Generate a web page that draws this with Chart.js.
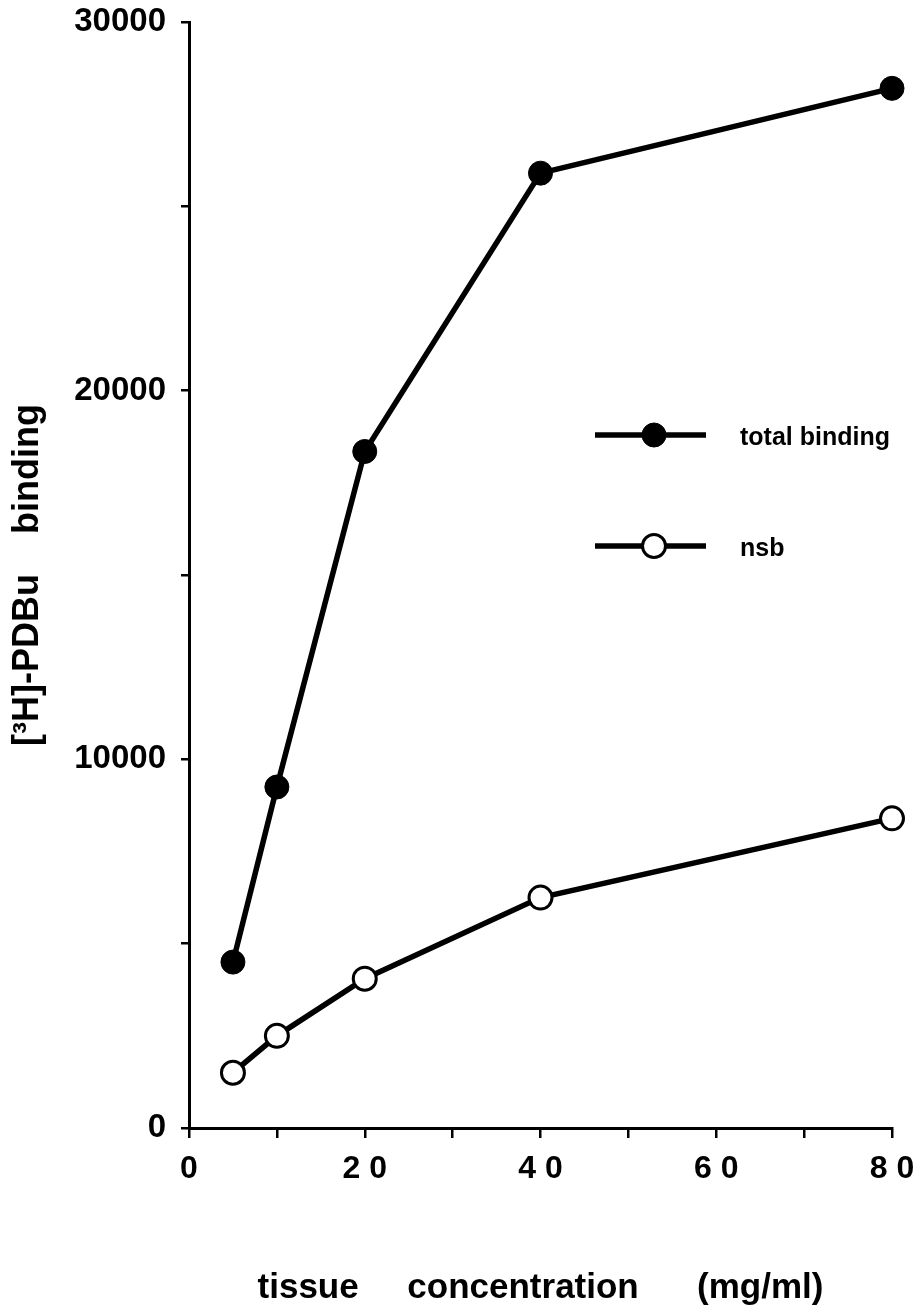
<!DOCTYPE html>
<html>
<head>
<meta charset="utf-8">
<title>PDBu binding</title>
<script src="https://cdn.jsdelivr.net/npm/chart.js@4/dist/chart.umd.min.js"></script>
<style>
  html, body { margin: 0; padding: 0; background: #fff; }
  #wrap { width: 922px; height: 1315px; position: relative; }
</style>
</head>
<body>
<div id="wrap"><canvas id="canvas"></canvas></div>
<script>
// tissue concentration (mg/ml)
const concentrations = [5, 10, 20, 40, 80];
// [3H]-PDBu binding
const totalBinding = [4500, 9250, 18350, 25900, 28200];
const nsb = [1500, 2500, 4050, 6250, 8400];

const xTicks = [0, 20, 40, 60, 80];
const yTicks = [0, 10000, 20000, 30000];
const seriesNames = ['total binding', 'nsb'];

const boldFont = "'Liberation Sans', Arial, Helvetica, sans-serif";

const toPoints = (values) => concentrations.map((c, i) => ({ x: c, y: values[i] }));

// legend drawn inside the plot, like the original figure
const insideLegend = {
  id: 'insideLegend',
  afterDatasetsDraw(chart) {
    const ctx = chart.ctx;
    const rows = [
      { y: 435, ds: chart.data.datasets[0] },
      { y: 546, ds: chart.data.datasets[1] }
    ];
    rows.forEach(row => {
      ctx.save();
      ctx.strokeStyle = '#000';
      ctx.lineWidth = 5.5;
      ctx.beginPath();
      ctx.moveTo(595, row.y);
      ctx.lineTo(706, row.y);
      ctx.stroke();
      ctx.beginPath();
      ctx.arc(654, row.y, row.ds.pointRadius, 0, Math.PI * 2);
      ctx.fillStyle = row.ds.pointBackgroundColor;
      ctx.fill();
      ctx.lineWidth = row.ds.pointBorderWidth;
      ctx.stroke();
      ctx.fillStyle = '#000';
      ctx.font = 'bold 25px ' + boldFont;
      ctx.textBaseline = 'middle';
      ctx.fillText(row.ds.label, 740, row.y + 3);
      ctx.restore();
    });
  }
};

// keep the plot box where the figure has it
const noScalePadding = (scale) => {
  scale.paddingTop = 0;
  scale.paddingBottom = 0;
  scale.paddingLeft = 0;
  scale.paddingRight = 0;
};

let ctx = document.querySelector('#canvas');

const myGraph = new Chart(ctx, {
  type: 'line',
  data: {
    datasets: [
      {
        label: seriesNames[0],
        data: toPoints(totalBinding),
        borderColor: '#000',
        borderWidth: 5.5,
        pointRadius: 12,
        pointBackgroundColor: '#000',
        pointBorderColor: '#000',
        pointBorderWidth: 1,
        tension: 0,
        clip: false
      },
      {
        label: seriesNames[1],
        data: toPoints(nsb),
        borderColor: '#000',
        borderWidth: 5.5,
        pointRadius: 11.5,
        pointBackgroundColor: '#fff',
        pointBorderColor: '#000',
        pointBorderWidth: 3,
        tension: 0,
        clip: false
      }
    ]
  },
  options: {
    responsive: true,
    maintainAspectRatio: false,
    animation: false,
    layout: { autoPadding: false, padding: { left: 0, top: 22, right: 30, bottom: 0 } },
    plugins: {
      legend: { display: false },
      tooltip: { enabled: false }
    },
    scales: {
      x: {
        type: 'linear',
        min: 0,
        max: 80,
        border: { color: '#000', width: 3 },
        grid: { drawOnChartArea: false, color: '#000', lineWidth: 2.5, tickLength: 10 },
        ticks: {
          stepSize: 10,
          autoSkip: false,
          maxRotation: 0,
          padding: 12,
          color: '#000',
          font: { family: boldFont, size: 32, weight: 'bold' },
          callback: (v) => xTicks.includes(v) ? String(v).split('').join(' ') : ''
        },
        title: {
          display: true,
          text: 'tissue     concentration      (mg/ml)',
          color: '#000',
          font: { family: boldFont, size: 35, weight: 'bold' },
          padding: { top: 0, bottom: 6 }
        },
        afterFit: (scale) => {
          scale.height = 187;
          noScalePadding(scale);
        }
      },
      y: {
        min: 0,
        max: 30000,
        border: { color: '#000', width: 3 },
        grid: { drawOnChartArea: false, color: '#000', lineWidth: 2.5, tickLength: 8 },
        ticks: {
          stepSize: 5000,
          autoSkip: false,
          padding: 15,
          color: '#000',
          font: { family: boldFont, size: 33, weight: 'bold' },
          callback: (v) => yTicks.includes(v) ? String(v) : ''
        },
        title: {
          display: true,
          text: '[³H]-PDBu    binding',
          color: '#000',
          font: { family: boldFont, size: 36, weight: 'bold' },
          padding: { top: 6, bottom: 0 }
        },
        afterFit: (scale) => {
          scale.width = 189;
          noScalePadding(scale);
        }
      }
    }
  },
  plugins: [insideLegend]
});
</script>
</body>
</html>
